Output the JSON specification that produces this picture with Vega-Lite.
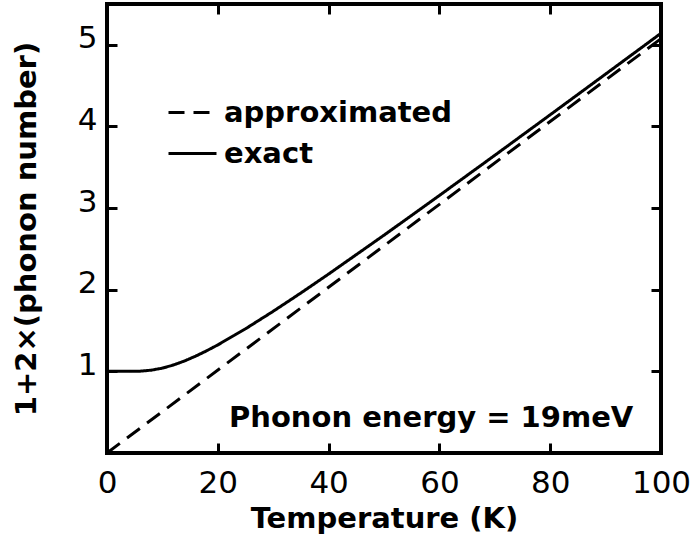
{
  "$schema": "https://vega.github.io/schema/vega-lite/v6.json",
  "width": 554,
  "height": 449,
  "autosize": "none",
  "padding": {"left": 107, "top": 4, "right": 31, "bottom": 90},
  "background": "white",
  "config": {
    "view": {"stroke": "black", "strokeWidth": 4},
    "font": "DejaVu Sans",
    "axis": {
      "domain": false,
      "grid": false,
      "tickColor": "black",
      "tickWidth": 3,
      "tickSize": -10,
      "labelColor": "black",
      "labelFont": "DejaVu Sans",
      "labelFontSize": 31,
      "titleColor": "black",
      "titleFont": "DejaVu Sans",
      "titleFontSize": 29,
      "titleFontWeight": "bold"
    }
  },
  "layer": [
    {
      "data": {
        "values": [
          {"T": 0, "value": 0, "series": "approximated"},
          {"T": 100, "value": 5.076, "series": "approximated"},
          {"T": 0, "value": 1.0, "series": "exact"},
          {"T": 2, "value": 1.0, "series": "exact"},
          {"T": 4, "value": 1.0001, "series": "exact"},
          {"T": 6, "value": 1.0028, "series": "exact"},
          {"T": 8, "value": 1.0146, "series": "exact"},
          {"T": 10, "value": 1.0397, "series": "exact"},
          {"T": 12, "value": 1.0779, "series": "exact"},
          {"T": 14, "value": 1.1276, "series": "exact"},
          {"T": 16, "value": 1.1864, "series": "exact"},
          {"T": 18, "value": 1.2524, "series": "exact"},
          {"T": 20, "value": 1.3241, "series": "exact"},
          {"T": 25, "value": 1.5215, "series": "exact"},
          {"T": 30, "value": 1.7357, "series": "exact"},
          {"T": 35, "value": 1.9603, "series": "exact"},
          {"T": 40, "value": 2.1919, "series": "exact"},
          {"T": 50, "value": 2.6681, "series": "exact"},
          {"T": 60, "value": 3.1547, "series": "exact"},
          {"T": 70, "value": 3.6467, "series": "exact"},
          {"T": 80, "value": 4.143, "series": "exact"},
          {"T": 90, "value": 4.6416, "series": "exact"},
          {"T": 100, "value": 5.1417, "series": "exact"}
        ]
      },
      "mark": {"type": "line", "color": "black", "strokeWidth": 3},
      "encoding": {
        "x": {
          "field": "T", "type": "quantitative",
          "scale": {"domain": [0, 100], "nice": false},
          "axis": {"orient": "bottom", "values": [0, 20, 40, 60, 80, 100], "labelPadding": 25, "labelFlush": false,
                   "title": "Temperature (K)", "titleY": 74, "titleBaseline": "alphabetic"}
        },
        "y": {
          "field": "value", "type": "quantitative",
          "scale": {"domain": [0, 5.5], "nice": false},
          "axis": {"orient": "left", "values": [1, 2, 3, 4, 5], "labelPadding": 20, "labelOffset": -6,
                   "title": "1+2×(phonon number)", "titleX": -72, "titleY": 224.5, "titleAngle": -90,
                   "titleAlign": "center", "titleBaseline": "alphabetic"}
        },
        "strokeDash": {
          "field": "series", "type": "nominal",
          "scale": {"domain": ["approximated", "exact"], "range": [[16, 9], [1, 0]]},
          "legend": {
            "orient": "none", "legendX": 60, "legendY": 83, "title": null,
            "symbolType": "stroke", "symbolSize": 2304, "symbolStrokeWidth": 3, "symbolStrokeColor": "black",
            "labelFont": "DejaVu Sans", "labelFontSize": 29, "labelFontWeight": "bold", "labelColor": "black",
            "labelOffset": 6, "rowPadding": -5, "labelLimit": 400
          }
        }
      }
    },
    {
      "data": {"values": [{"label": "Phonon energy = 19meV"}]},
      "mark": {"type": "text", "align": "right", "baseline": "alphabetic",
               "font": "DejaVu Sans", "fontSize": 29, "fontWeight": "bold", "color": "black"},
      "encoding": {
        "text": {"field": "label"},
        "x": {"datum": 95, "type": "quantitative", "axis": {"orient": "top", "values": [20, 40, 60, 80], "labels": false, "title": null}},
        "y": {"datum": 0.32, "type": "quantitative", "axis": {"orient": "right", "values": [1, 2, 3, 4, 5], "labels": false, "title": null}}
      }
    }
  ],
  "resolve": {"axis": {"x": "independent", "y": "independent"}}
}
